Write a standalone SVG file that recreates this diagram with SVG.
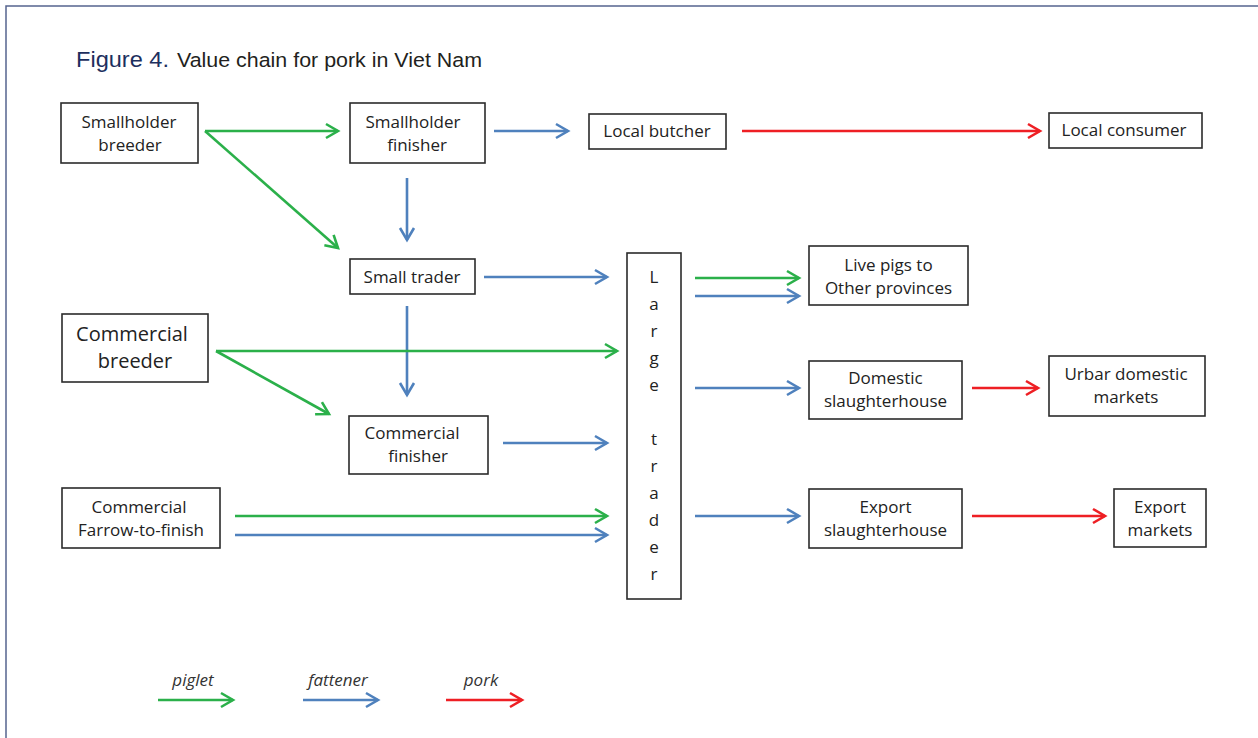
<svg xmlns="http://www.w3.org/2000/svg" width="1258" height="738" viewBox="0 0 1258 738">
<style>
.box{fill:#fff;stroke:#2b2b2b;stroke-width:1.6}
.t{font-family:"Open Sans","Liberation Sans",sans-serif;font-size:17px;fill:#222;text-anchor:middle}
.big{font-size:20px}
.lt{font-family:"Open Sans","Liberation Sans",sans-serif;font-size:17px;fill:#222;text-anchor:middle}
.g{stroke:#2bb04a;stroke-width:2.6;fill:none}
.b{stroke:#4f81bd;stroke-width:2.6;fill:none}
.r{stroke:#ee1f24;stroke-width:2.6;fill:none}
.leg{font-family:"Open Sans","Liberation Sans",sans-serif;font-size:17px;font-style:italic;fill:#333;text-anchor:middle}
</style>
<defs>
<marker id="ag" markerUnits="userSpaceOnUse" markerWidth="18" markerHeight="20" refX="14" refY="9" orient="auto"><path d="M2,2 L14,9 L2,16" fill="none" stroke="#2bb04a" stroke-width="2.6"/></marker>
<marker id="ab" markerUnits="userSpaceOnUse" markerWidth="18" markerHeight="20" refX="14" refY="9" orient="auto"><path d="M2,2 L14,9 L2,16" fill="none" stroke="#4f81bd" stroke-width="2.6"/></marker>
<marker id="ar" markerUnits="userSpaceOnUse" markerWidth="18" markerHeight="20" refX="14" refY="9" orient="auto"><path d="M2,2 L14,9 L2,16" fill="none" stroke="#ee1f24" stroke-width="2.6"/></marker>
</defs>
<rect width="1258" height="738" fill="#fff"/>
<path d="M6,738 V6 H1258" fill="none" stroke="#55648f" stroke-width="1.5"/>
<text x="76" y="67" font-family="'Liberation Sans',Arial,sans-serif" fill="#1d2f5e" font-size="22" textLength="93" lengthAdjust="spacingAndGlyphs">Figure 4.</text>
<text x="177" y="67" font-family="'Liberation Sans',Arial,sans-serif" fill="#231f20" font-size="20.5" textLength="305" lengthAdjust="spacingAndGlyphs">Value chain for pork in Viet Nam</text>

<g id="connectors">
<line class="g" x1="205" y1="131" x2="338" y2="131" marker-end="url(#ag)"/>
<line class="g" x1="205" y1="131" x2="338" y2="248" marker-end="url(#ag)"/>
<line class="b" x1="494" y1="131" x2="568" y2="131" marker-end="url(#ab)"/>
<line class="r" x1="742" y1="131" x2="1040" y2="131" marker-end="url(#ar)"/>
<line class="b" x1="407" y1="178" x2="407" y2="240" marker-end="url(#ab)"/>
<line class="b" x1="484" y1="277" x2="607" y2="277" marker-end="url(#ab)"/>
<line class="b" x1="407" y1="306" x2="407" y2="395" marker-end="url(#ab)"/>
<line class="g" x1="216" y1="351" x2="617" y2="351" marker-end="url(#ag)"/>
<line class="g" x1="216" y1="351" x2="329" y2="414" marker-end="url(#ag)"/>
<line class="b" x1="503" y1="443" x2="607" y2="443" marker-end="url(#ab)"/>
<line class="g" x1="235" y1="516" x2="607" y2="516" marker-end="url(#ag)"/>
<line class="b" x1="235" y1="535" x2="607" y2="535" marker-end="url(#ab)"/>
<line class="g" x1="695" y1="278" x2="799" y2="278" marker-end="url(#ag)"/>
<line class="b" x1="695" y1="296" x2="799" y2="296" marker-end="url(#ab)"/>
<line class="b" x1="695" y1="388" x2="799" y2="388" marker-end="url(#ab)"/>
<line class="r" x1="972" y1="388" x2="1038" y2="388" marker-end="url(#ar)"/>
<line class="b" x1="695" y1="516" x2="799" y2="516" marker-end="url(#ab)"/>
<line class="r" x1="972" y1="516" x2="1105" y2="516" marker-end="url(#ar)"/>
</g>

<g id="smallholder-breeder"><rect class="box" x="61" y="103" width="137" height="60"/><text class="t" x="129" y="128">Smallholder</text><text class="t" x="130" y="151">breeder</text></g>
<g id="smallholder-finisher"><rect class="box" x="350" y="103" width="135" height="60"/><text class="t" x="413" y="128">Smallholder</text><text class="t" x="417" y="151">finisher</text></g>
<g id="local-butcher"><rect class="box" x="589" y="114" width="137" height="35"/><text class="t" x="657" y="137">Local butcher</text></g>
<g id="local-consumer"><rect class="box" x="1049" y="113" width="153" height="35"/><text class="t" x="1124" y="136">Local consumer</text></g>
<g id="small-trader"><rect class="box" x="350" y="259" width="125" height="35"/><text class="t" x="412" y="283">Small trader</text></g>
<g id="commercial-breeder"><rect class="box" x="62" y="314" width="146" height="68"/><text class="t big" x="132" y="341">Commercial</text><text class="t big" x="135" y="368">breeder</text></g>
<g id="commercial-finisher"><rect class="box" x="349" y="416" width="139" height="58"/><text class="t" x="412" y="439">Commercial</text><text class="t" x="418" y="462">finisher</text></g>
<g id="commercial-farrow"><rect class="box" x="62" y="488" width="158" height="60"/><text class="t" x="139" y="513">Commercial</text><text class="t" x="141" y="536">Farrow-to-finish</text></g>
<g id="large-trader"><rect class="box" x="627" y="253" width="54" height="346"/>
<text class="lt"><tspan x="654" y="283">L</tspan><tspan x="654" y="310">a</tspan><tspan x="654" y="337">r</tspan><tspan x="654" y="364">g</tspan><tspan x="654" y="391">e</tspan><tspan x="654" y="445">t</tspan><tspan x="654" y="472">r</tspan><tspan x="654" y="499">a</tspan><tspan x="654" y="526">d</tspan><tspan x="654" y="553">e</tspan><tspan x="654" y="580">r</tspan></text></g>
<g id="live-pigs"><rect class="box" x="809" y="246" width="159" height="59"/><text class="t" x="888.5" y="271">Live pigs to</text><text class="t" x="888.5" y="294">Other provinces</text></g>
<g id="domestic-slaughterhouse"><rect class="box" x="809" y="361" width="153" height="58"/><text class="t" x="885.5" y="384">Domestic</text><text class="t" x="885.5" y="407">slaughterhouse</text></g>
<g id="urban-markets"><rect class="box" x="1049" y="356" width="156" height="60"/><text class="t" x="1126" y="380">Urbar domestic</text><text class="t" x="1126" y="403">markets</text></g>
<g id="export-slaughterhouse"><rect class="box" x="809" y="489" width="153" height="59"/><text class="t" x="885.5" y="513">Export</text><text class="t" x="885.5" y="536">slaughterhouse</text></g>
<g id="export-markets"><rect class="box" x="1114" y="489" width="92" height="58"/><text class="t" x="1160" y="513">Export</text><text class="t" x="1160" y="536">markets</text></g>

<g id="legend">
<text class="leg" x="193" y="686">piglet</text>
<line class="g" x1="158" y1="700" x2="233" y2="700" marker-end="url(#ag)"/>
<text class="leg" x="338" y="686">fattener</text>
<line class="b" x1="303" y1="700" x2="378" y2="700" marker-end="url(#ab)"/>
<text class="leg" x="481" y="686">pork</text>
<line class="r" x1="446" y1="700" x2="522" y2="700" marker-end="url(#ar)"/>
</g>
</svg>
